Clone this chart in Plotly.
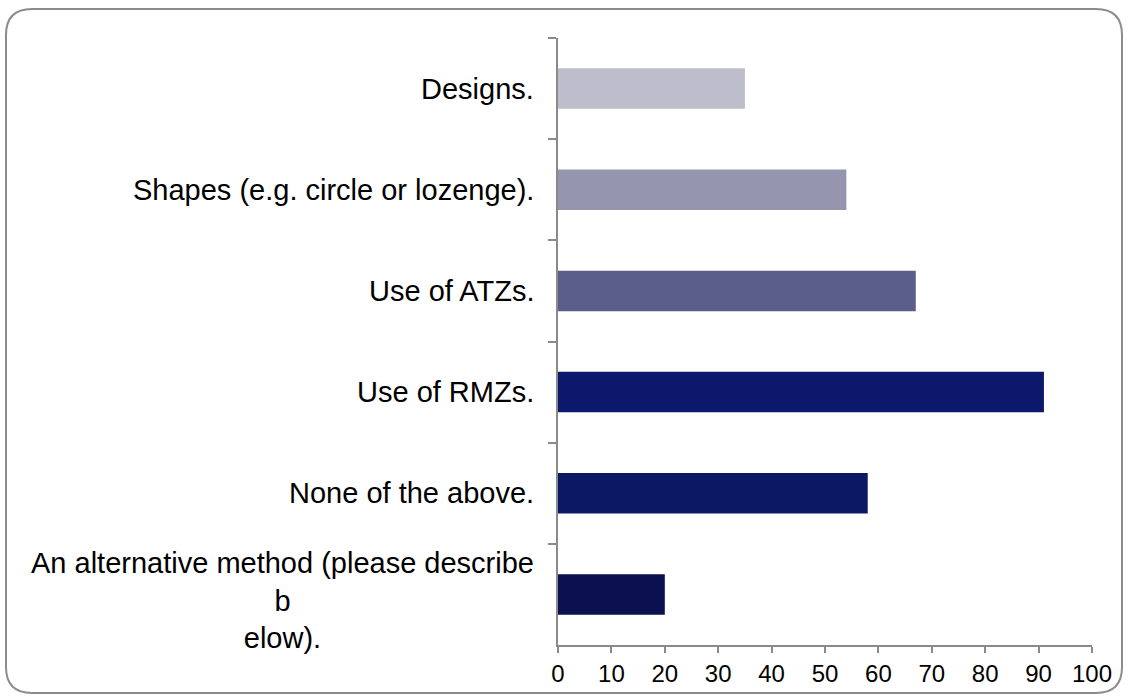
import plotly.graph_objects as go

categories = [
    "Designs.",
    "Shapes (e.g. circle or lozenge).",
    "Use of ATZs.",
    "Use of RMZs.",
    "None of the above.",
    "An alternative method (please describe<br>b<br>elow).",
]
values = [35, 54, 67, 91, 58, 20]
bar_colors = ["#bdbdcb", "#9595ad", "#5c5e8a", "#0c186b", "#0c1863", "#0a1050"]
x_ticks = [0, 10, 20, 30, 40, 50, 60, 70, 80, 90, 100]

W, H = 1128, 700
margin = dict(l=558, r=36, t=38, b=55)
axis_grey = "#8a8a8a"
label_font = dict(family="Arial, Liberation Sans, sans-serif", size=29, color="black")

fig = go.Figure(
    go.Bar(
        x=values,
        y=categories,
        orientation="h",
        marker=dict(color=bar_colors, line=dict(width=0)),
        hoverinfo="x+y",
    )
)

# category labels drawn as annotations so wrapped lines stay centred
for cat in categories:
    fig.add_annotation(
        x=0, xref="paper", y=cat, yref="y",
        text=cat, showarrow=False,
        xanchor="right", align="center", xshift=-22,
        yshift=-6 if "<br>" in cat else 0,
        font=label_font,
    )

# rounded outer frame, pixel values converted to paper units
pw = W - margin["l"] - margin["r"]
ph = H - margin["t"] - margin["b"]


def px_x(p):
    return (p - margin["l"]) / pw


def px_y(p):
    return (H - margin["b"] - p) / ph


x0, x1, y0, y1, r = 6, 1122, 9, 693, 26
frame = (
    f"M {px_x(x0 + r)},{px_y(y0)} L {px_x(x1 - r)},{px_y(y0)} "
    f"Q {px_x(x1)},{px_y(y0)} {px_x(x1)},{px_y(y0 + r)} "
    f"L {px_x(x1)},{px_y(y1 - r)} "
    f"Q {px_x(x1)},{px_y(y1)} {px_x(x1 - r)},{px_y(y1)} "
    f"L {px_x(x0 + r)},{px_y(y1)} "
    f"Q {px_x(x0)},{px_y(y1)} {px_x(x0)},{px_y(y1 - r)} "
    f"L {px_x(x0)},{px_y(y0 + r)} "
    f"Q {px_x(x0)},{px_y(y0)} {px_x(x0 + r)},{px_y(y0)} Z"
)
fig.add_shape(type="path", path=frame, xref="paper", yref="paper",
              line=dict(color="#8c8c8c", width=2), layer="below")

fig.update_xaxes(
    range=[0, 100], tickvals=x_ticks, showgrid=False, zeroline=False,
    showline=True, linecolor=axis_grey, linewidth=2,
    ticks="outside", ticklen=6, tickcolor=axis_grey, tickwidth=2,
    tickfont=dict(family="Arial, Liberation Sans, sans-serif", size=24, color="black"),
)
fig.update_yaxes(
    autorange="reversed", showgrid=False, zeroline=False,
    showline=True, linecolor=axis_grey, linewidth=2,
    ticks="outside", ticklen=8, tickcolor=axis_grey, tickwidth=2,
    tickson="boundaries", showticklabels=False,
)
fig.update_layout(
    width=W, height=H, margin=margin,
    bargap=0.6, showlegend=False,
    plot_bgcolor="white", paper_bgcolor="white",
)

# drop the default page margin so the figure sits at the window corner
fig.write_html(
    "out.html",
    config={"displayModeBar": False},
    post_script="document.body.style.margin='0';",
)
